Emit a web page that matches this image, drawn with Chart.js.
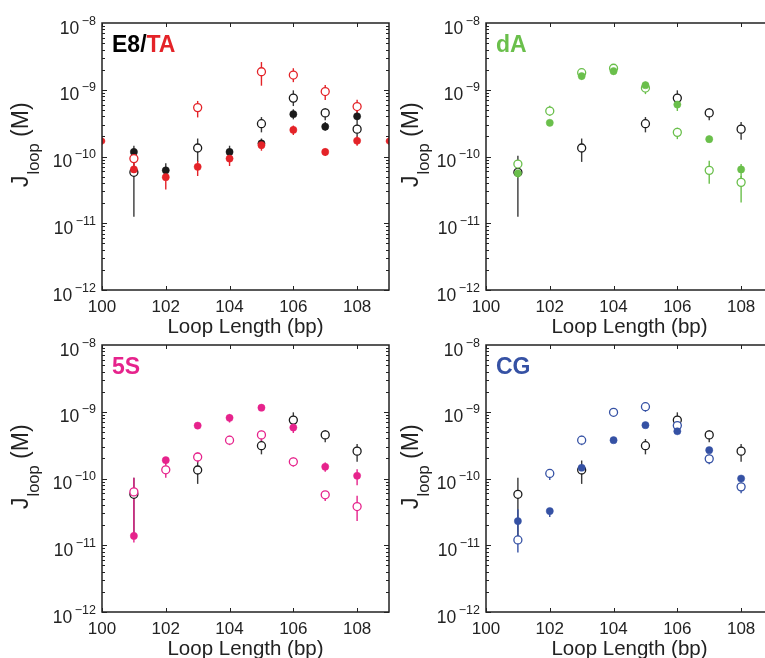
<!DOCTYPE html>
<html><head><meta charset="utf-8">
<script src="https://cdn.jsdelivr.net/npm/chart.js@4.4.1/dist/chart.umd.min.js"></script>
<style>
html,body{margin:0;padding:0;background:#fff;overflow:hidden;width:765px;height:658px;}
canvas{position:absolute;}
</style></head><body>
<canvas id="c1" width="395" height="345" style="left:0px;top:0px"></canvas>
<canvas id="c2" width="395" height="345" style="left:384px;top:0px"></canvas>
<canvas id="c3" width="395" height="345" style="left:0px;top:322px"></canvas>
<canvas id="c4" width="395" height="345" style="left:384px;top:322px"></canvas>
<script>
// ---------- tick values ----------
const xTicks = [100, 102, 104, 106, 108];
const yTicks = [1e-12, 1e-11, 1e-10, 1e-9, 1e-8];
const loopLengths = [101, 102, 103, 104, 105, 106, 107, 108];

// ---------- E8 reference (black open, in every panel) ----------
const e8OpenX  = [101, 103, 105, 106, 107, 108];
const e8Open   = [5.8e-11, 1.34e-10, 3.1e-10, 7.5e-10, 4.5e-10, 2.57e-10];
const e8OpenLo = [1.25e-11, 8.3e-11, 2.3e-10, 5.7e-10, 3.5e-10, 1.78e-10];
const e8OpenHi = [1.03e-10, 1.86e-10, 3.9e-10, 9.8e-10, 5.3e-10, 3.3e-10];

// ---------- E8 filled (panel 1) ----------
const e8FilledX  = [101, 102, 104, 105, 106, 107, 108];
const e8Filled   = [1.17e-10, 6.2e-11, 1.17e-10, 1.57e-10, 4.3e-10, 2.8e-10, 4.0e-10];
const e8FilledLo = [9.7e-11, 5.1e-11, 9.7e-11, 1.29e-10, 3.6e-10, 2.43e-10, 3.3e-10];
const e8FilledHi = [1.45e-10, 7.9e-11, 1.45e-10, 1.86e-10, 5.1e-10, 3.3e-10, 4.8e-10];

// ---------- TA (red) ----------
const taOpenX  = [101, 103, 105, 106, 107, 108];
const taOpen   = [9.3e-11, 5.4e-10, 1.86e-9, 1.66e-9, 9.4e-10, 5.6e-10];
const taOpenLo = [7.5e-11, 3.85e-10, 1.15e-9, 1.3e-9, 7.0e-10, 4.5e-10];
const taOpenHi = [1.1e-10, 6.8e-10, 2.6e-9, 2.1e-9, 1.18e-9, 7.1e-10];
const taFilled   = [6.4e-11, 4.9e-11, 7.0e-11, 9.3e-11, 1.48e-10, 2.5e-10, 1.17e-10, 1.72e-10];
const taFilledLo = [5.4e-11, 3.2e-11, 5.1e-11, 7.2e-11, 1.22e-10, 2.1e-10, 1.02e-10, 1.45e-10];
const taFilledHi = [7.7e-11, 6.1e-11, 8.6e-11, 1.12e-10, 1.72e-10, 2.9e-10, 1.32e-10, 2.0e-10];
const taEdgeX  = [100, 109];
const taEdge   = [1.7e-10, 1.7e-10];
const taEdgeLo = [1.5e-10, 1.5e-10];
const taEdgeHi = [1.95e-10, 1.95e-10];

// ---------- dA (green) ----------
const daOpen   = [7.7e-11, 4.8e-10, 1.8e-9, 2.1e-9, 1.06e-9, 2.3e-10, 6.2e-11, 4.1e-11];
const daOpenLo = [6.8e-11, 4.07e-10, 1.58e-9, 1.82e-9, 8.6e-10, 1.82e-10, 3.9e-11, 2.04e-11];
const daOpenHi = [8.6e-11, 5.75e-10, 2.04e-9, 2.34e-9, 1.22e-9, 2.7e-10, 8.6e-11, 5.1e-11];
const daFilled   = [5.6e-11, 3.2e-10, 1.6e-9, 1.9e-9, 1.17e-9, 6.0e-10, 1.82e-10, 6.4e-11];
const daFilledLo = [4.8e-11, 2.95e-10, 1.41e-9, 1.66e-9, 1.05e-9, 4.8e-10, 1.62e-10, 4.8e-11];
const daFilledHi = [6.45e-11, 3.55e-10, 1.78e-9, 2.16e-9, 1.32e-9, 6.8e-10, 2.04e-10, 7.7e-11];

// ---------- 5S (pink) ----------
const s5Open   = [6.3e-11, 1.35e-10, 2.1e-10, 3.75e-10, 4.5e-10, 1.78e-10, 5.7e-11, 3.8e-11];
const s5OpenLo = [1.64e-11, 1.03e-10, 1.74e-10, 3.16e-10, 3.67e-10, 1.51e-10, 4.6e-11, 2.3e-11];
const s5OpenHi = [1.03e-10, 1.74e-10, 2.45e-10, 4.37e-10, 5.2e-10, 2.07e-10, 6.5e-11, 5.5e-11];
const s5Filled   = [1.38e-11, 1.88e-10, 6.2e-10, 8.1e-10, 1.15e-9, 5.8e-10, 1.5e-10, 1.1e-10];
const s5FilledLo = [1.1e-11, 1.64e-10, 5.6e-10, 6.9e-10, 1.03e-9, 4.8e-10, 1.26e-10, 7.9e-11];
const s5FilledHi = [1.64e-11, 2.07e-10, 6.8e-10, 9.2e-10, 1.26e-9, 6.9e-10, 1.74e-10, 1.38e-10];

// ---------- CG (blue) ----------
const cgOpen   = [1.2e-11, 1.19e-10, 3.75e-10, 9.8e-10, 1.19e-9, 6.2e-10, 1.97e-10, 7.5e-11];
const cgOpenLo = [7.8e-12, 9.5e-11, 3.16e-10, 8.5e-10, 1.0e-9, 5.2e-10, 1.64e-10, 6.0e-11];
const cgOpenHi = [1.55e-11, 1.38e-10, 4.37e-10, 1.12e-9, 1.38e-9, 7.1e-10, 2.3e-10, 8.7e-11];
const cgFilled   = [2.3e-11, 3.25e-11, 1.45e-10, 3.75e-10, 6.3e-10, 5.1e-10, 2.66e-10, 1.0e-10];
const cgFilledLo = [1.55e-11, 2.66e-11, 1.26e-10, 3.47e-10, 5.75e-10, 4.57e-10, 2.43e-10, 8.9e-11];
const cgFilledHi = [3.47e-11, 3.6e-11, 1.55e-10, 4.07e-10, 6.9e-10, 5.6e-10, 2.9e-10, 1.07e-10];

// ---------- styling ----------
const FONT = '"Liberation Sans", Arial, Helvetica, sans-serif';
const BLACK = '#1a1a1a', RED = '#e42328', GREEN = '#6abf4b', PINK = '#e6238c', BLUE = '#3551a4';

function series(xs, ys, lo, hi, color, filled, extra) {
  const ds = {
    data: xs.map((x, i) => ({x: x, y: ys[i], lo: lo[i], hi: hi[i]})),
    barColor: color,
    pointStyle: 'circle',
    pointRadius: filled ? 3.6 : 4,
    pointHoverRadius: filled ? 3.6 : 4,
    pointBorderWidth: filled ? 0.5 : 1.3,
    pointBorderColor: color,
    pointBackgroundColor: filled ? color : '#ffffff',
    showLine: false
  };
  return Object.assign(ds, extra || {});
}

const errorBars = {
  id: 'errorBars',
  beforeDatasetsDraw(chart) {
    const ctx = chart.ctx, ys = chart.scales.y, a = chart.chartArea;
    ctx.save();
    ctx.beginPath();
    ctx.rect(a.left, a.top, a.right - a.left, a.bottom - a.top);
    ctx.clip();
    const sets = chart.data.datasets;
    for (let di = sets.length - 1; di >= 0; di--) {
      const ds = sets[di];
      const meta = chart.getDatasetMeta(di);
      ctx.strokeStyle = ds.barColor;
      ctx.lineWidth = 1.4;
      meta.data.forEach((pt, i) => {
        const d = ds.data[i];
        if (d.lo == null) return;
        ctx.beginPath();
        ctx.moveTo(pt.x, ys.getPixelForValue(d.lo));
        ctx.lineTo(pt.x, ys.getPixelForValue(d.hi));
        ctx.stroke();
      });
    }
    ctx.restore();
  }
};

const decor = {
  id: 'decor',
  afterDraw(chart, args, opts) {
    const ctx = chart.ctx, a = chart.chartArea, xs = chart.scales.x, ys = chart.scales.y;
    ctx.save();
    // frame
    ctx.strokeStyle = '#222';
    ctx.lineWidth = 1.5;
    ctx.strokeRect(a.left, a.top, a.right - a.left, a.bottom - a.top);
    // ticks
    ctx.lineWidth = 1;
    ctx.beginPath();
    xs.ticks.forEach(t => {
      const px = Math.round(xs.getPixelForValue(t.value)) + 0.5;
      ctx.moveTo(px, a.bottom); ctx.lineTo(px, a.bottom - 4);
      ctx.moveTo(px, a.top); ctx.lineTo(px, a.top + 4);
    });
    const eMin = Math.round(Math.log10(ys.min)), eMax = Math.round(Math.log10(ys.max));
    for (let e = eMin; e < eMax; e++) {
      for (let m = 1; m < 10; m++) {
        const py = Math.round(ys.getPixelForValue(m * Math.pow(10, e))) + 0.5;
        const len = m === 1 ? 5 : 3;
        ctx.moveTo(a.left, py); ctx.lineTo(a.left + len, py);
        ctx.moveTo(a.right, py); ctx.lineTo(a.right - len, py);
      }
    }
    ctx.stroke();
    // y tick labels 10^n
    ctx.fillStyle = '#222';
    ctx.textAlign = 'left';
    ctx.textBaseline = 'alphabetic';
    ys.ticks.forEach(t => {
      const py = ys.getPixelForValue(t.value);
      const ex = Math.round(Math.log10(t.value));
      const expStr = (ex < 0 ? '\u2212' : '') + Math.abs(ex);
      ctx.font = '12.5px ' + FONT;
      const we = ctx.measureText(expStr).width;
      const right = a.left - 6;
      ctx.fillText(expStr, right - we, py + 1.5);
      ctx.font = '17.5px ' + FONT;
      const wb = ctx.measureText('10').width;
      ctx.fillText('10', right - we - 2.5 - wb, py + 10.5);
    });
    // y axis title J_loop (M)
    ctx.save();
    ctx.translate(opts.titleX, a.top + 164);
    ctx.rotate(-Math.PI / 2);
    ctx.fillStyle = '#222';
    ctx.font = '23px ' + FONT;
    ctx.fillText('J', 0, 0);
    let w = ctx.measureText('J').width;
    ctx.font = '16.5px ' + FONT;
    ctx.fillText('loop', w + 1, 11);
    w += 1 + ctx.measureText('loop').width;
    ctx.font = '23px ' + FONT;
    ctx.fillText(' (M)', w, 0);
    ctx.restore();
    // panel label
    ctx.font = 'bold 23px ' + FONT;
    let lx = a.left + 10;
    opts.label.forEach(p => {
      ctx.fillStyle = p.color;
      ctx.fillText(p.text, lx, a.top + 29);
      lx += ctx.measureText(p.text).width;
    });
    ctx.restore();
  }
};

function makeChart(id, datasets, label, titleX) {
  new Chart(document.getElementById(id), {
    type: 'scatter',
    data: {datasets: datasets},
    plugins: [errorBars, decor],
    options: {
      responsive: false,
      animation: false,
      events: [],
      layout: {padding: {top: 23, right: 6, bottom: 0, left: 0}},
      plugins: {legend: {display: false}, tooltip: {enabled: false}, decor: {label: label, titleX: titleX}},
      scales: {
        x: {
          type: 'linear', min: 100, max: 109,
          afterBuildTicks: s => { s.ticks = xTicks.map(v => ({value: v})); },
          afterFit: s => { s.height = 55; },
          grid: {display: false, drawTicks: false}, border: {display: false},
          ticks: {font: {family: FONT, size: 17}, color: '#222', padding: 7, maxRotation: 0},
          title: {display: true, text: 'Loop Length (bp)', color: '#222',
                  font: {family: FONT, size: 20.5}, padding: {top: 0, bottom: 5}}
        },
        y: {
          type: 'logarithmic', min: 1e-12, max: 1e-8,
          afterBuildTicks: s => { s.ticks = yTicks.map(v => ({value: v})); },
          afterFit: s => { s.width = 102; },
          grid: {display: false, drawTicks: false}, border: {display: false},
          ticks: {display: false}
        }
      }
    }
  });
}

const e8OpenSeries = () => series(e8OpenX, e8Open, e8OpenLo, e8OpenHi, BLACK, false, {barColor: '#3a3a3a'});

makeChart('c1', [
  series(loopLengths, taFilled, taFilledLo, taFilledHi, RED, true),
  series(taEdgeX, taEdge, taEdgeLo, taEdgeHi, RED, true, {clip: 0, pointRadius: 3}),
  series(taOpenX, taOpen, taOpenLo, taOpenHi, RED, false),
  series(e8FilledX, e8Filled, e8FilledLo, e8FilledHi, BLACK, true, {barColor: '#3a3a3a'}),
  e8OpenSeries()
], [{text: 'E8/', color: '#000'}, {text: 'TA', color: RED}], 28);

makeChart('c2', [
  series(loopLengths, daFilled, daFilledLo, daFilledHi, GREEN, true),
  series(loopLengths, daOpen, daOpenLo, daOpenHi, GREEN, false),
  e8OpenSeries()
], [{text: 'dA', color: GREEN}], 34);

makeChart('c3', [
  series(loopLengths, s5Filled, s5FilledLo, s5FilledHi, PINK, true),
  series(loopLengths, s5Open, s5OpenLo, s5OpenHi, PINK, false),
  e8OpenSeries()
], [{text: '5S', color: PINK}], 28);

makeChart('c4', [
  series(loopLengths, cgFilled, cgFilledLo, cgFilledHi, BLUE, true),
  series(loopLengths, cgOpen, cgOpenLo, cgOpenHi, BLUE, false),
  e8OpenSeries()
], [{text: 'CG', color: BLUE}], 34);
</script>
</body></html>
